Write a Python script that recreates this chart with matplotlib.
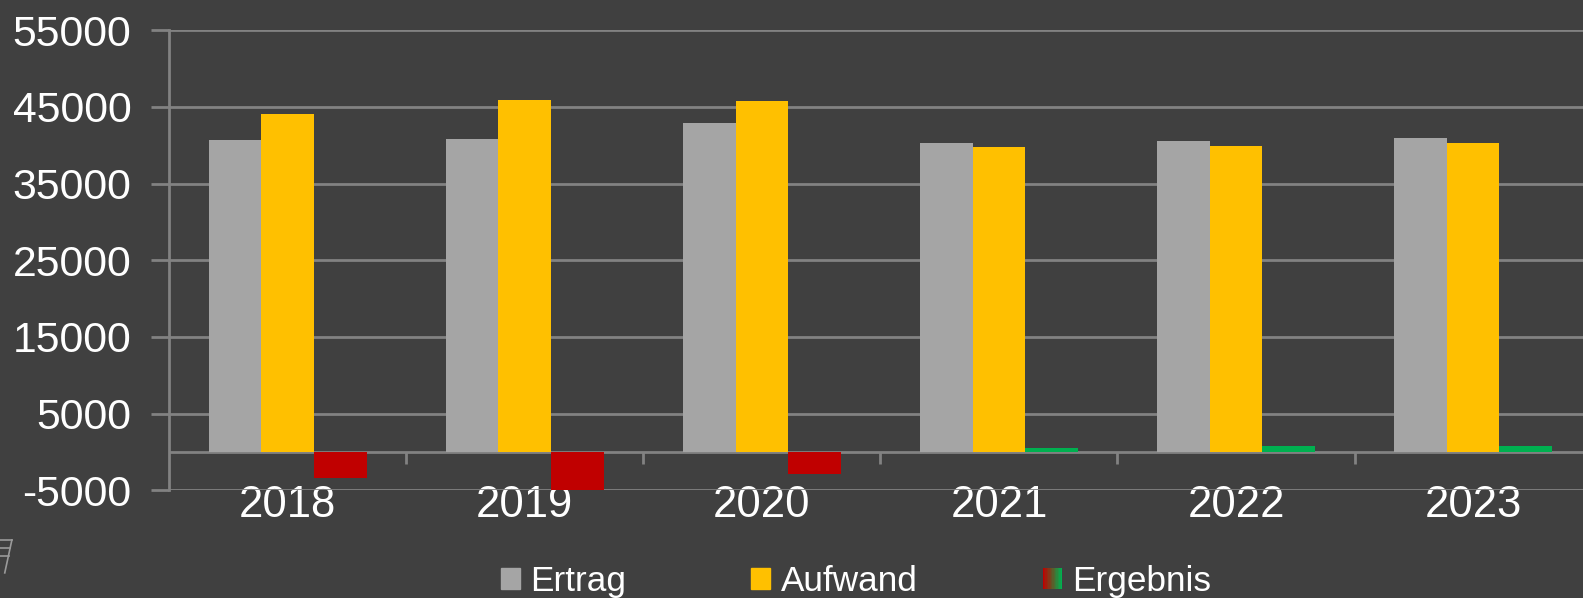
"""Ertrag / Aufwand / Ergebnis bar chart on dark background."""

import numpy as np
import matplotlib
matplotlib.use("Agg")
import matplotlib.pyplot as plt
from matplotlib.patches import Patch, Rectangle
from matplotlib.legend_handler import HandlerBase
from matplotlib.colors import to_rgb

###################################################################################################
###################################################################################################

years = ["2018", "2019", "2020", "2021", "2022", "2023"]
ertrag = [40730, 40860, 42960, 40330, 40600, 41000]
aufwand = [44120, 45890, 45720, 39800, 39940, 40330]
ergebnis = [-3370, -5030, -2850, 480, 740, 740]

BG = "#404040"
GRID = "#828282"
RED = "#C00000"
GREEN = "#00B050"

plt.rcParams["font.family"] = ["Liberation Sans", "DejaVu Sans"]
plt.rcParams["axes.unicode_minus"] = False


class GradientHandler(HandlerBase):
    """Legend handle drawn as a red to green gradient square."""

    def create_artists(self, legend, orig_handle, xdescent, ydescent,
                       width, height, fontsize, trans):
        n_steps = 14
        c0, c1 = np.array(to_rgb(RED)), np.array(to_rgb(GREEN))
        step = width / n_steps
        artists = []
        for ind in range(n_steps):
            col = np.clip(c0 + (c1 - c0) * ind / (n_steps - 1), 0, 1)
            artists.append(Rectangle((-xdescent + ind * step, -ydescent), step * 1.05, height,
                                     facecolor=tuple(col), edgecolor="none", transform=trans))
        return artists


fig = plt.figure(figsize=(15.83, 5.98), dpi=100, facecolor=BG)
ax = fig.add_axes([0.1068, 0.1801, 0.8987, 0.7692], facecolor=BG)

x = np.arange(len(years))
bw = 0.222
ax.bar(x - bw, ertrag, bw, color="#A5A5A5", zorder=3)
ax.bar(x, aufwand, bw, color="#FFC000", zorder=3)
ax.bar(x + bw, ergebnis, bw, color=[GREEN if v > 0 else RED for v in ergebnis], zorder=3)

ax.set_xlim(-0.5, len(years) - 0.5)
ax.set_ylim(-5000, 55000)
ax.set_yticks(np.arange(-5000, 55001, 10000))
ax.yaxis.grid(True, color=GRID, linewidth=2, zorder=1)

# zero line with category separators
ax.axhline(0, color=GRID, linewidth=2, zorder=2)
ax.vlines(x[:-1] + 0.5, -1600, 0, color=GRID, linewidth=2, zorder=2)

for side in ["top", "right", "bottom"]:
    ax.spines[side].set_visible(False)
ax.spines["left"].set_color(GRID)
ax.spines["left"].set_linewidth(2)

ax.tick_params(axis="y", colors=GRID, length=13, width=2, pad=14, labelsize=30.8,
               labelcolor="white")
ax.set_xticks(x)
ax.set_xticklabels(years)
ax.tick_params(axis="x", length=0, pad=-3.5, labelsize=31.4, labelcolor="white")

handles = [Patch(color="#A5A5A5"), Patch(color="#FFC000"), Patch(color=RED)]
fig.legend(handles, ["Ertrag", "Aufwand", "Ergebnis"], ncol=3, loc="center",
           bbox_to_anchor=(856 / 1583, 0.028), frameon=False, fontsize=25.3,
           labelcolor="white", handlelength=0.55, handleheight=0.55,
           handletextpad=0.3, columnspacing=3.55, borderpad=0,
           handler_map={handles[2]: GradientHandler()})

# fragment of a logo at the bottom left edge
for y0, x1 in [(0.097, 0.0075), (0.084, 0.0065), (0.071, 0.0055)]:
    fig.add_artist(plt.Line2D([0, x1], [y0, y0], color="#9a9a9a", lw=1.2))
fig.add_artist(plt.Line2D([0.0075, 0.003], [0.097, 0.042], color="#9a9a9a", lw=1.2))

fig.savefig("out.png", dpi=100, facecolor=BG)
